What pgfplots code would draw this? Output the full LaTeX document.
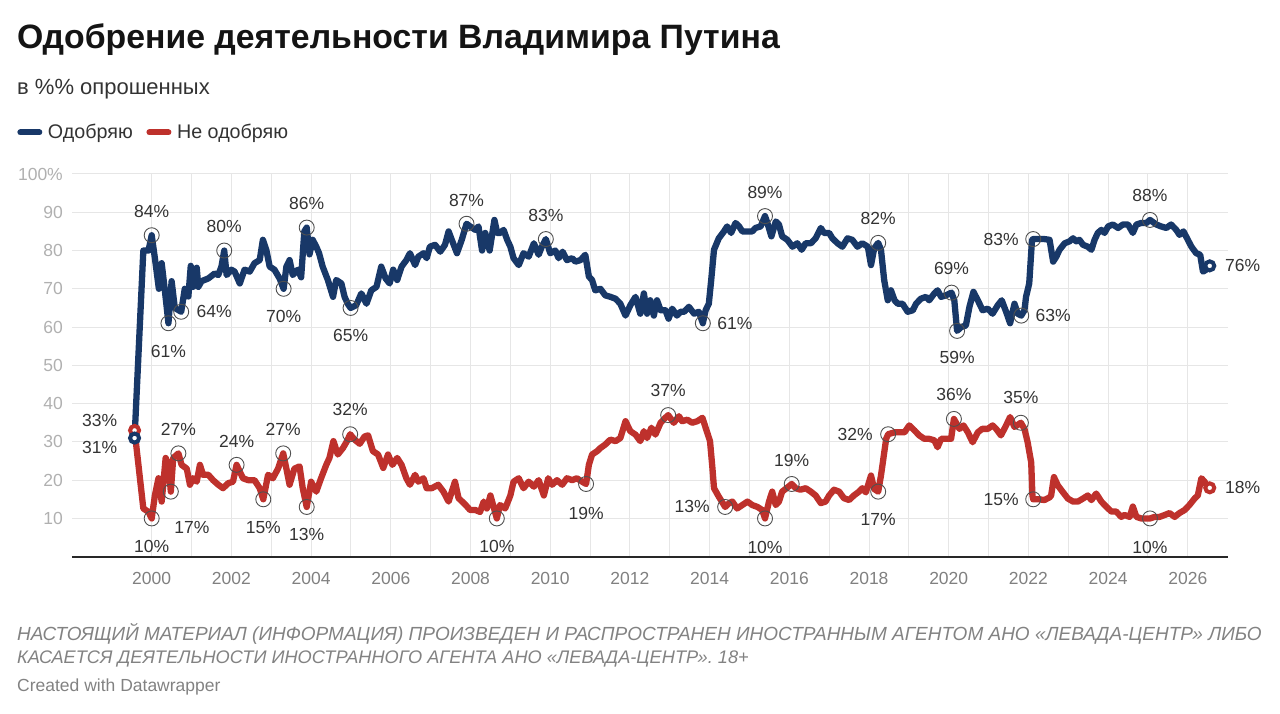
\documentclass[border=0pt]{standalone}
\usepackage{pgfplots}
\pgfplotsset{compat=1.18}
\usepackage{pgfplotstable}
\usepackage{fontspec}
\setmainfont{Liberation Sans}
\definecolor{blu}{RGB}{24,56,104}
\definecolor{rd}{RGB}{190,49,44}
\definecolor{gridc}{RGB}{230,230,230}
\definecolor{ytc}{RGB}{176,176,176}
\definecolor{xtc}{RGB}{128,128,128}
\definecolor{labc}{RGB}{51,51,51}
\definecolor{annc}{RGB}{80,80,80}
\definecolor{footc}{RGB}{130,130,130}
\definecolor{titc}{RGB}{20,20,20}
\definecolor{axc}{RGB}{40,40,40}

\pgfplotstableread{
x y
1999.57 31
1999.79 80
1999.92 80
2000.00 84
2000.08 78
2000.18 70
2000.25 76.7
2000.33 69.6
2000.42 61
2000.50 72
2000.58 65
2000.74 64
2000.83 70
2000.92 68
2000.98 76
2001.04 70.5
2001.13 75.5
2001.17 70.5
2001.25 72
2001.42 72.7
2001.58 74
2001.67 73.6
2001.75 75.8
2001.82 80
2001.88 73.6
2002.00 75
2002.08 74.5
2002.21 71.4
2002.33 75
2002.46 74.5
2002.58 76.7
2002.71 77.5
2002.79 82.8
2002.88 80
2002.96 75.8
2003.08 75
2003.21 72.7
2003.31 70
2003.38 75.8
2003.46 77.5
2003.54 73.6
2003.67 75
2003.75 73
2003.83 85
2003.89 86
2003.96 79
2004.04 82.8
2004.13 81
2004.20 79.3
2004.29 75.8
2004.42 72.3
2004.55 67.9
2004.63 72.3
2004.76 71.4
2004.84 67.9
2004.92 66.1
2004.99 65
2005.13 65.7
2005.26 68.8
2005.39 66.1
2005.51 69.6
2005.64 70.5
2005.76 75.8
2005.87 72.7
2005.97 71.4
2006.06 75
2006.16 72.3
2006.27 75.8
2006.39 77.5
2006.48 79.3
2006.61 76.2
2006.69 78.4
2006.82 79.3
2006.90 78
2006.98 81
2007.11 81.5
2007.24 79.7
2007.36 81.5
2007.45 85
2007.53 82.8
2007.66 79.3
2007.78 82.8
2007.90 87
2007.99 86.3
2008.12 85.4
2008.20 86.3
2008.29 80
2008.37 84.6
2008.48 80
2008.60 88
2008.67 84.6
2008.75 84.6
2008.83 85.4
2008.92 82.8
2009.00 81
2009.08 78
2009.21 76.2
2009.33 79.3
2009.46 78.4
2009.59 81.9
2009.71 78.9
2009.79 81
2009.89 83
2010.00 79.3
2010.13 80
2010.21 78
2010.31 79.7
2010.42 77.5
2010.55 78
2010.63 77.1
2010.76 77.5
2010.88 78.9
2010.97 73.2
2011.05 72.3
2011.13 69.6
2011.26 70
2011.38 68.3
2011.51 67.9
2011.64 67.4
2011.76 66.1
2011.89 63
2012.01 65.7
2012.14 67.9
2012.26 63.5
2012.35 68.8
2012.43 63.5
2012.51 67
2012.60 63
2012.68 67
2012.77 64.4
2012.89 64.4
2012.97 62.2
2013.06 64.8
2013.18 63
2013.27 64
2013.36 64
2013.48 65.3
2013.61 63.5
2013.73 64
2013.83 61
2013.90 64.4
2013.98 66.1
2014.04 72.3
2014.11 80.2
2014.23 83.2
2014.36 85
2014.44 86.3
2014.54 84.6
2014.65 87.2
2014.74 86.3
2014.82 85
2014.95 85
2015.07 85
2015.15 85.9
2015.28 86.3
2015.39 89
2015.45 87.2
2015.55 83.7
2015.66 87.6
2015.74 86.8
2015.82 83.7
2015.95 82.8
2016.08 81
2016.20 81.9
2016.31 80.2
2016.41 81.9
2016.54 81.9
2016.66 83.2
2016.79 85.9
2016.87 84.6
2017.00 84.6
2017.08 83.2
2017.21 81.9
2017.33 81
2017.46 83.2
2017.58 82.8
2017.71 81
2017.83 81.9
2017.97 81
2018.05 76.2
2018.13 80.6
2018.23 82
2018.30 80.2
2018.38 72.3
2018.47 67
2018.55 69.6
2018.64 67
2018.72 66.1
2018.84 66.1
2018.97 64
2019.10 64.4
2019.18 66.1
2019.30 67.4
2019.43 67.9
2019.51 67
2019.64 68.8
2019.72 69.6
2019.81 67.9
2019.93 68.3
2020.07 69
2020.14 67
2020.21 59
2020.31 60
2020.43 60.4
2020.52 65.3
2020.62 69.2
2020.73 67
2020.85 64.4
2020.98 64.8
2021.10 63.5
2021.23 65.7
2021.33 67
2021.44 64
2021.54 61
2021.65 66.1
2021.73 63.5
2021.82 63
2021.90 64.4
2021.94 67.9
2022.02 71.4
2022.09 82.8
2022.12 83
2022.27 83
2022.40 83
2022.53 82.8
2022.62 77.1
2022.70 78.4
2022.78 80.2
2022.91 81.9
2023.03 82.4
2023.12 83.2
2023.20 82.4
2023.28 82.8
2023.37 81.5
2023.49 81
2023.58 80.2
2023.66 82.8
2023.74 84.6
2023.83 85.4
2023.91 84.6
2024.00 86.3
2024.12 86.8
2024.25 85.9
2024.37 86.8
2024.50 86.8
2024.62 84.6
2024.71 86.8
2024.83 87.2
2024.96 87.2
2025.05 88
2025.21 86.8
2025.33 86.3
2025.46 85.9
2025.58 86.8
2025.71 85.4
2025.79 84.1
2025.89 85
2026.00 82.8
2026.09 81
2026.21 79.3
2026.31 78.9
2026.38 74.5
2026.46 75
2026.55 76
}\tblBlue

\pgfplotstableread{
x y
1999.57 33
1999.79 12.6
1999.92 11.7
2000.00 10
2000.08 16
2000.17 20.5
2000.25 14.4
2000.35 25.8
2000.42 24
2000.48 17
2000.54 25.8
2000.67 27
2000.75 24
2000.88 23
2000.96 18.8
2001.04 20.5
2001.13 19.6
2001.21 24
2001.29 21.4
2001.42 21.4
2001.54 20
2001.67 18.8
2001.79 17.9
2001.92 19.2
2002.04 19.6
2002.13 24
2002.29 20.5
2002.42 20
2002.58 20
2002.71 17.9
2002.80 15
2002.92 21.4
2003.04 20.5
2003.17 23
2003.30 27
2003.38 23
2003.46 18.8
2003.58 23
2003.71 23.6
2003.79 17.9
2003.89 13
2004.00 19.6
2004.13 17
2004.25 20.5
2004.38 24
2004.46 25.8
2004.56 30.2
2004.67 26.7
2004.80 28.4
2004.90 30.2
2004.98 32
2005.09 30.6
2005.22 29.5
2005.34 31.4
2005.43 31.7
2005.55 27.6
2005.68 26.7
2005.81 23.2
2005.93 26.7
2006.04 24
2006.16 25.8
2006.27 24
2006.39 20.5
2006.48 18.8
2006.61 21.4
2006.69 19.6
2006.82 20.5
2006.90 17.9
2007.03 17.9
2007.19 18.8
2007.32 17
2007.45 14.4
2007.61 19.6
2007.70 15.3
2007.87 13.6
2007.99 12.2
2008.12 12.2
2008.24 11.7
2008.33 14.4
2008.41 12.6
2008.50 16
2008.66 10
2008.74 13.5
2008.87 12.6
2009.00 16
2009.08 19.6
2009.21 20.5
2009.33 17.9
2009.46 19.6
2009.59 18.3
2009.71 20
2009.84 16
2009.95 20.5
2010.05 18.8
2010.17 20
2010.30 18.8
2010.42 20.5
2010.55 20
2010.67 20.5
2010.80 19.6
2010.90 19
2010.97 24
2011.05 26.7
2011.18 27.6
2011.26 28.4
2011.38 29.3
2011.51 30.6
2011.64 30.2
2011.76 31
2011.89 35.4
2012.01 32.8
2012.14 31.9
2012.26 30.2
2012.35 32.8
2012.43 31
2012.54 33.7
2012.64 31.9
2012.77 35
2012.89 36.3
2012.96 37
2013.10 35
2013.23 36.7
2013.31 35.4
2013.44 35.8
2013.56 35
2013.69 35.4
2013.82 36.3
2013.90 33.7
2014.01 30.2
2014.07 23.2
2014.11 17.9
2014.23 15.7
2014.39 13
2014.49 14
2014.57 14.4
2014.69 12.6
2014.82 13.5
2014.95 14.4
2015.07 13.5
2015.20 13
2015.32 12.2
2015.39 10
2015.49 14.4
2015.57 17
2015.66 13.5
2015.74 14.4
2015.82 17
2015.93 17.9
2016.06 19
2016.16 17.9
2016.28 17.5
2016.41 17.9
2016.54 17
2016.66 16
2016.79 14
2016.91 14.4
2017.00 16
2017.12 17.5
2017.25 17
2017.37 15.3
2017.50 14.8
2017.62 16
2017.75 17
2017.83 17.9
2017.92 16.8
2018.05 21.2
2018.13 17.7
2018.23 17
2018.30 21.2
2018.43 30.8
2018.48 32
2018.64 32.5
2018.76 32.5
2018.89 32.5
2019.01 34.3
2019.14 33
2019.26 31.7
2019.39 30.8
2019.51 30.8
2019.64 30.4
2019.72 28.6
2019.81 30.8
2019.93 30.8
2020.06 30.8
2020.13 36
2020.27 33.4
2020.37 34.3
2020.48 32.5
2020.60 29.9
2020.73 32.5
2020.84 33.4
2020.98 33.4
2021.10 34.3
2021.19 33.4
2021.31 31.7
2021.44 34.3
2021.54 36.5
2021.65 33.9
2021.71 34.3
2021.81 35
2021.90 33.4
2021.98 29.9
2022.07 24.6
2022.10 16
2022.12 15
2022.27 15
2022.40 14.8
2022.53 15.5
2022.57 16
2022.64 20.8
2022.74 18.6
2022.87 16.8
2022.99 15.2
2023.12 14.4
2023.24 14.4
2023.37 15.2
2023.49 16
2023.58 14.8
2023.70 16.5
2023.83 14.4
2023.95 13.1
2024.08 11.8
2024.20 11.8
2024.33 10.4
2024.41 10.9
2024.54 10.4
2024.62 13.1
2024.71 10.4
2024.83 10
2024.96 10
2025.05 10
2025.17 10.4
2025.29 10.4
2025.42 10.9
2025.54 11.4
2025.67 10.4
2025.79 11.4
2025.92 12.2
2026.04 13.5
2026.17 15.2
2026.25 16
2026.34 20.5
2026.42 19.6
2026.50 18.2
2026.55 18
}\tblRed

\pgfplotstableread{
x y lab dx dy
2000.00 84 84 0 24
2000.42 61 61 0 -28
2000.74 64 64 33 0
2001.82 80 80 0 24
2003.31 70 70 0 -28
2003.89 86 86 0 24.5
2004.99 65 65 0 -28
2007.90 87 87 0 23.5
2009.89 83 83 0 24
2013.83 61 61 32 0
2015.39 89 89 0 24
2018.23 82 82 0 24
2020.07 69 69 0 24
2020.21 59 59 0 -27
2021.82 63 63 32 0
2022.12 83 83 -32 0
2025.05 88 88 0 24
2000.00 10 10 0 -28
2000.48 17 17 21 -36
2000.67 27 27 0 24
2002.13 24 24 0 23
2002.80 15 15 0 -28
2003.30 27 27 0 24
2003.89 13 13 0 -28
2004.98 32 32 0 25
2008.66 10 10 0 -28
2010.90 19 19 0 -29
2012.96 37 37 0 25
2014.39 13 13 -33 0
2015.39 10 10 0 -29
2016.06 19 19 0 24
2018.23 17 17 0 -28
2018.48 32 32 -33 0
2020.13 36 36 0 24
2021.81 35 35 0 25
2022.12 15 15 -32 0
2025.05 10 10 0 -29
}\tblAnn

\pgfplotstableread{
x y lab dx dy
1999.57 31 31 -35 -9
2026.55 76 76 33 0
}\tblEndB

\pgfplotstableread{
x y lab dx dy
1999.57 33 33 -35 10
2026.55 18 18 33 0
}\tblEndR

\begin{document}
\begin{tikzpicture}
\useasboundingbox (0pt,0pt) rectangle (1280pt,713pt);
\node[anchor=base west,inner sep=0pt,text=titc,font=\fontsize{33.8}{38}\selectfont\bfseries] at (17pt,664pt) {Одобрение деятельности Владимира Путина};
\node[anchor=base west,inner sep=0pt,text=labc,font=\fontsize{22}{26}\selectfont] at (17pt,618pt) {в \%\% опрошенных};
\node[anchor=base west,inner sep=0pt,text=footc,font=\fontsize{19}{22}\selectfont\itshape] at (17pt,73pt) {НАСТОЯЩИЙ МАТЕРИАЛ (ИНФОРМАЦИЯ) ПРОИЗВЕДЕН И РАСПРОСТРАНЕН ИНОСТРАННЫМ АГЕНТОМ АНО «ЛЕВАДА-ЦЕНТР» ЛИБО};
\node[anchor=base west,inner sep=0pt,text=footc,font=\fontsize{18.2}{22}\selectfont\itshape] at (17pt,50pt) {КАСАЕТСЯ ДЕЯТЕЛЬНОСТИ ИНОСТРАННОГО АГЕНТА АНО «ЛЕВАДА-ЦЕНТР». 18+};
\node[anchor=base west,inner sep=0pt,text=footc,font=\fontsize{17.5}{20}\selectfont] at (17pt,22pt) {Created with Datawrapper};
\begin{axis}[
  at={(72pt,156.3pt)}, anchor=south west,
  scale only axis, width=1155.7pt, height=382.7pt,
  xmin=1998, xmax=2027, ymin=0, ymax=100,
  clip=false,
  axis line style={draw=none},
  major tick length=0pt, minor tick length=0pt,
  tick style={draw=none},
  xtick={2000,2002,...,2026},
  xticklabels={2000,2002,2004,2006,2008,2010,2012,2014,2016,2018,2020,2022,2024,2026},
  minor xtick={2001,2003,...,2025},
  ytick={10,20,...,100},
  yticklabels={10,20,30,40,50,60,70,80,90,100\%},
  grid=both,
  major grid style={draw=gridc, line width=1pt},
  minor grid style={draw=gridc, line width=1pt},
  extra y ticks={0},
  extra y tick labels={},
  extra y tick style={grid=major, major grid style={draw=axc, line width=1.6pt}},
  xticklabel style={anchor=center, inner sep=0pt, yshift=-22pt, text=xtc, font=\fontsize{17.5}{20}\selectfont},
  yticklabel style={anchor=east, inner sep=0pt, xshift=-9pt, text=ytc, font=\fontsize{17.5}{20}\selectfont},
  legend style={at={(axis description cs:-0.0502,1.1085)}, anchor=west, draw=none, fill=none, inner sep=0pt, legend columns=2, font=\fontsize{19.7}{23}\selectfont, text=labc, /tikz/every even column/.append style={column sep=8.5pt}},
  legend cell align=left,
  legend image code/.code={\path (0pt,0pt) (25.5pt,0pt); \draw[#1, line width=6pt, line cap=round] (3pt,0pt) -- (22pt,0pt);},
  lbl/.style={point meta=explicit symbolic,
    visualization depends on={\thisrow{dx}\as\mydx},
    visualization depends on={\thisrow{dy}\as\mydy},
    nodes near coords={\pgfplotspointmeta\%},
    nodes near coords style={anchor=center, inner sep=0pt, xshift=\mydx pt, yshift=\mydy pt, text=labc, font=\fontsize{17.5}{20}\selectfont}},
]
\addplot[blu, line width=6.3pt, line join=round, line cap=round, mark=none] table[x=x,y=y] {\tblBlue};
\addlegendentry{Одобряю}
\addplot[rd, line width=6.3pt, line join=round, line cap=round, mark=none] table[x=x,y=y] {\tblRed};
\addlegendentry{Не одобряю}
\addplot[only marks, mark=*, mark size=4.5pt, mark options={draw=rd, fill=white, line width=4pt}, lbl, forget plot] table[x=x,y=y,meta=lab] {\tblEndR};
\addplot[only marks, mark=*, mark size=4.5pt, mark options={draw=blu, fill=white, line width=4pt}, lbl, forget plot] table[x=x,y=y,meta=lab] {\tblEndB};
\addplot[only marks, mark=o, mark size=7.5pt, mark options={draw=annc, line width=0.9pt}, lbl, forget plot] table[x=x,y=y,meta=lab] {\tblAnn};
\end{axis}
\end{tikzpicture}
\end{document}
